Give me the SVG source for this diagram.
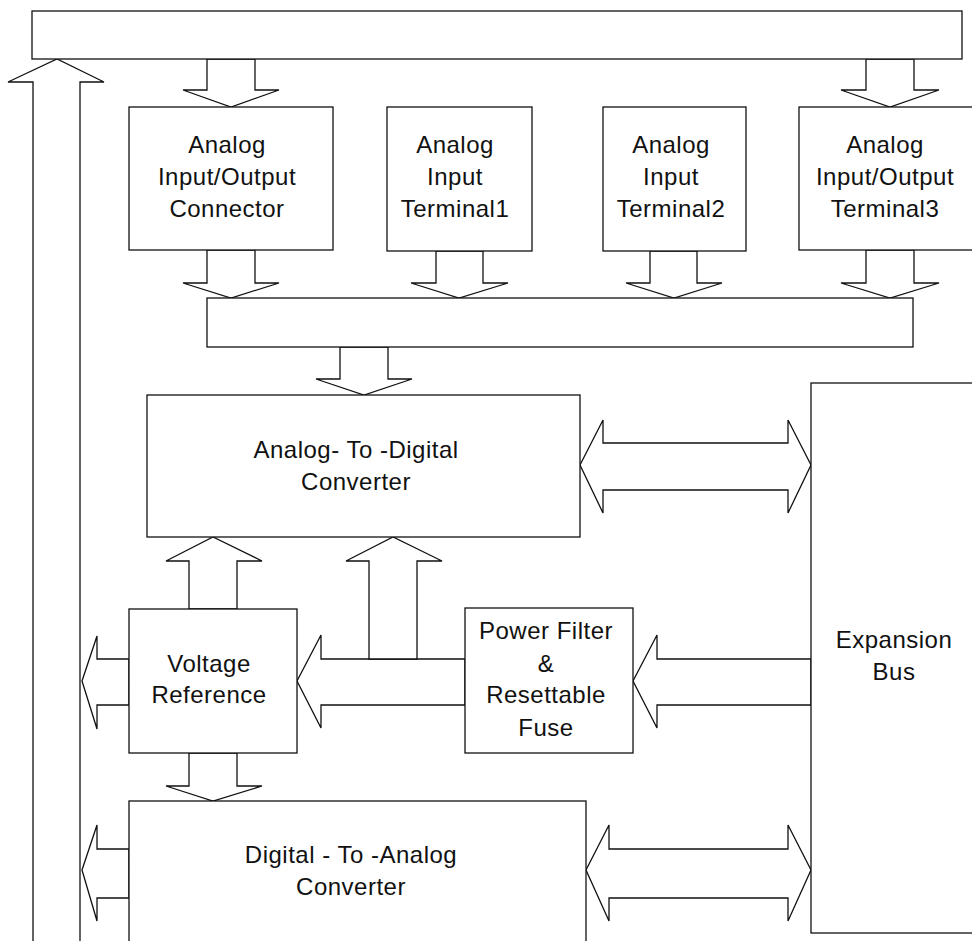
<svg xmlns="http://www.w3.org/2000/svg" width="972" height="941" viewBox="0 0 972 941">
<style>
.b{fill:#fff;stroke:#111;stroke-width:1.3}
.a{fill:#fff;stroke:#111;stroke-width:1.3;stroke-linejoin:miter}
text{font-family:"Liberation Sans",Arial,sans-serif;font-size:24px;fill:#111;text-anchor:middle;letter-spacing:0.5px}
</style>
<rect width="972" height="941" fill="#fff"/>
<g id="connectors">
<polygon class="a" points="33,960 33,82 8,82 57,59 104,82 80,82 80,960"/>
<polygon class="a" points="207,59 207,90 183,90 231,107 279,90 255,90 255,59"/>
<polygon class="a" points="866,59 866,90 841,90 890,107 939,90 914,90 914,59"/>
<polygon class="a" points="207,250 207,283 183,283 231,298 279,283 255,283 255,250"/>
<polygon class="a" points="436,251 436,283 411,283 459,298 508,283 483,283 483,251"/>
<polygon class="a" points="650,251 650,283 626,283 674,298 722,283 697,283 697,251"/>
<polygon class="a" points="866,250 866,283 841,283 890,298 939,283 914,283 914,250"/>
<polygon class="a" points="340,347 340,379 316,379 364,395 412,379 388,379 388,347"/>
<polygon class="a" points="189,609 189,561 166,561 213,537 262,561 237,561 237,609"/>
<polygon class="a" points="465,659 321,659 321,635 297,681 321,728 321,705 465,705"/>
<polygon class="a" points="369,659 369,561 346,561 393,537 442,561 417,561 417,659"/>
<polygon class="a" points="811,659 657,659 657,635 633,681 657,728 657,705 811,705"/>
<polygon class="a" points="129,659 97,659 97,636 82,681 97,729 97,705 129,705"/>
<polygon class="a" points="189,753 189,786 166,786 213,801 262,786 237,786 237,753"/>
<polygon class="a" points="129,849 97,849 97,825 82,870 97,921 97,898 129,898"/>
<polygon class="a" points="580,465 603,420 603,443 788,443 788,420 811,465 788,513 788,490 603,490 603,513"/>
<polygon class="a" points="586,870 609,825 609,849 788,849 788,825 811,870 788,921 788,898 609,898 609,921"/>
</g>
<g id="top-bus"><rect class="b" x="32" y="11" width="930" height="48"/></g>
<g id="mid-bus"><rect class="b" x="207" y="298" width="706" height="49"/></g>
<g id="aio-connector">
<rect class="b" x="129" y="107" width="204" height="143"/>
<text x="227" y="153">Analog</text><text x="227" y="185">Input/Output</text><text x="227" y="217">Connector</text>
</g>
<g id="ai-terminal1">
<rect class="b" x="387" y="107" width="145" height="144"/>
<text x="455" y="153">Analog</text><text x="455" y="185">Input</text><text x="455" y="217">Terminal1</text>
</g>
<g id="ai-terminal2">
<rect class="b" x="603" y="107" width="143" height="144"/>
<text x="671" y="153">Analog</text><text x="671" y="185">Input</text><text x="671" y="217">Terminal2</text>
</g>
<g id="aio-terminal3">
<rect class="b" x="799" y="107" width="200" height="143"/>
<text x="885" y="153">Analog</text><text x="885" y="185">Input/Output</text><text x="885" y="217">Terminal3</text>
</g>
<g id="adc">
<rect class="b" x="147" y="395" width="433" height="142"/>
<text x="356" y="458">Analog- To -Digital</text><text x="356" y="490">Converter</text>
</g>
<g id="voltage-reference">
<rect class="b" x="129" y="609" width="168" height="144"/>
<text x="209" y="672">Voltage</text><text x="209" y="703">Reference</text>
</g>
<g id="power-filter">
<rect class="b" x="465" y="608" width="168" height="145"/>
<text x="546" y="639">Power Filter</text><text x="546" y="672">&amp;</text><text x="546" y="703">Resettable</text><text x="546" y="736">Fuse</text>
</g>
<g id="expansion-bus">
<rect class="b" x="811" y="383" width="200" height="550"/>
<text x="894" y="648">Expansion</text><text x="894" y="680">Bus</text>
</g>
<g id="dac">
<rect class="b" x="129" y="801" width="457" height="160"/>
<text x="351" y="863">Digital - To -Analog</text><text x="351" y="895">Converter</text>
</g>
</svg>
